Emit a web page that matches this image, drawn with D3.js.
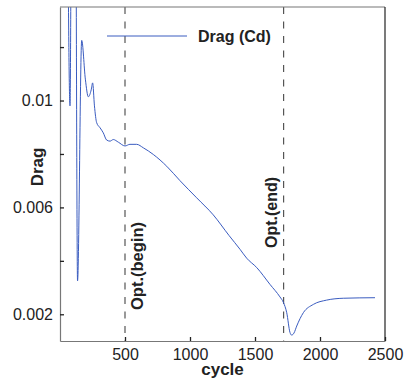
<!DOCTYPE html>
<html><head><meta charset="utf-8">
<script src="https://cdn.jsdelivr.net/npm/d3@7"></script>
<style>body{margin:0;background:#fff}svg{display:block}text{font-family:"Liberation Sans",Arial,sans-serif}</style>
</head><body><svg id="c" width="404" height="378"></svg>
<script>
const cycles = [50,77,95,115,135,167,195,218,240,251,265,282,308,333,359,385,410,449,500,538,590,641,718,821,923,1051,1179,1300,1385,1436,1513,1615,1692,1718,1744,1769,1782,1800,1821,1872,1949,2051,2179,2423];
const drag = [0.025,0.0098,0.025,0.025,0.00325,0.01225,0.0108,0.01014,0.0104,0.01066,0.0098,0.00917,0.00898,0.00879,0.00852,0.00848,0.00854,0.00844,0.0083,0.00836,0.00836,0.00823,0.00798,0.00754,0.0070,0.00636,0.00572,0.00495,0.00443,0.0041,0.00375,0.00312,0.00265,0.00245,0.00206,0.00132,0.00122,0.0013,0.00156,0.00206,0.00237,0.00253,0.0026,0.00262];
const xTicks = [500,1000,1500,2000,2500];
const yTicks = [0.002,0.004,0.006,0.008,0.01,0.012];
const yLabeled = [0.002,0.006,0.01];
const markers = [{x:500,label:"Opt.(begin)"},{x:1720,label:"Opt.(end)"}];
const seriesName = "Drag (Cd)";

const svg = d3.select("#c");
const L=60,R=385,T=7,B=341;
const x = d3.scaleLinear().domain([0,2500]).range([L,R]);
const y = d3.scaleLinear().domain([0.001,0.0135]).range([B,T]);

svg.append("clipPath").attr("id","clip").append("rect").attr("x",L).attr("y",T).attr("width",R-L).attr("height",B-T);

markers.forEach(m=>{
  svg.append("line").attr("x1",x(m.x)).attr("x2",x(m.x)).attr("y1",T).attr("y2",B)
    .attr("stroke","#555").attr("stroke-width",1.2).attr("stroke-dasharray","7,7.5");
});
svg.append("text").attr("transform",`translate(${x(500)+17.5},310) rotate(-90)`)
  .attr("font-size",16.5).attr("font-weight","bold").attr("fill","#222").text(markers[0].label);
svg.append("text").attr("transform",`translate(${x(1720)-6.5},248) rotate(-90)`)
  .attr("font-size",16).attr("font-weight","bold").attr("fill","#222").text(markers[1].label);

const data = cycles.map((c,i)=>[c,drag[i]]);
svg.append("path").datum(data).attr("clip-path","url(#clip)")
  .attr("fill","none").attr("stroke","#3a5cc0").attr("stroke-width",1)
  .attr("d",d3.line().x(d=>x(d[0])).y(d=>y(d[1])).curve(d3.curveMonotoneX));

svg.append("line").attr("x1",L).attr("x2",R).attr("y1",T).attr("y2",T).attr("stroke","#777").attr("stroke-width",1.2);
svg.append("line").attr("x1",R).attr("x2",R).attr("y1",T).attr("y2",B).attr("stroke","#222").attr("stroke-width",1.2);

const xa = svg.append("g").attr("transform",`translate(0,${B})`)
  .call(d3.axisBottom(x).tickValues(xTicks).tickSizeInner(-4).tickSizeOuter(0).tickPadding(8).tickFormat(d3.format("d")));
const ya = svg.append("g").attr("transform",`translate(${L},0)`)
  .call(d3.axisLeft(y).tickValues(yTicks).tickSizeInner(-4).tickSizeOuter(0).tickPadding(7)
    .tickFormat(d=>yLabeled.some(v=>Math.abs(v-d)<1e-9)?d3.format("")(+d.toFixed(4)):""));
[xa,ya].forEach(a=>{
  a.select(".domain").attr("stroke","#777").attr("stroke-width",1.2);
  a.selectAll(".tick line").attr("stroke","#222").attr("stroke-width",1.3);
  a.selectAll(".tick text").attr("font-size",16).attr("fill","#222").attr("font-family","Liberation Sans, Arial, sans-serif");
});

svg.append("text").attr("x",(L+R)/2).attr("y",375).attr("text-anchor","middle")
  .attr("font-size",17).attr("font-weight","bold").attr("fill","#222").text("cycle");
svg.append("text").attr("transform",`translate(43,167) rotate(-90)`).attr("text-anchor","middle")
  .attr("font-size",17).attr("font-weight","bold").attr("fill","#222").text("Drag");

svg.append("line").attr("x1",107).attr("x2",187).attr("y1",36).attr("y2",36).attr("stroke","#3a5cc0").attr("stroke-width",1);
svg.append("text").attr("x",198).attr("y",42).attr("font-size",16).attr("font-weight","bold").attr("fill","#222").text(seriesName);
</script></body></html>
